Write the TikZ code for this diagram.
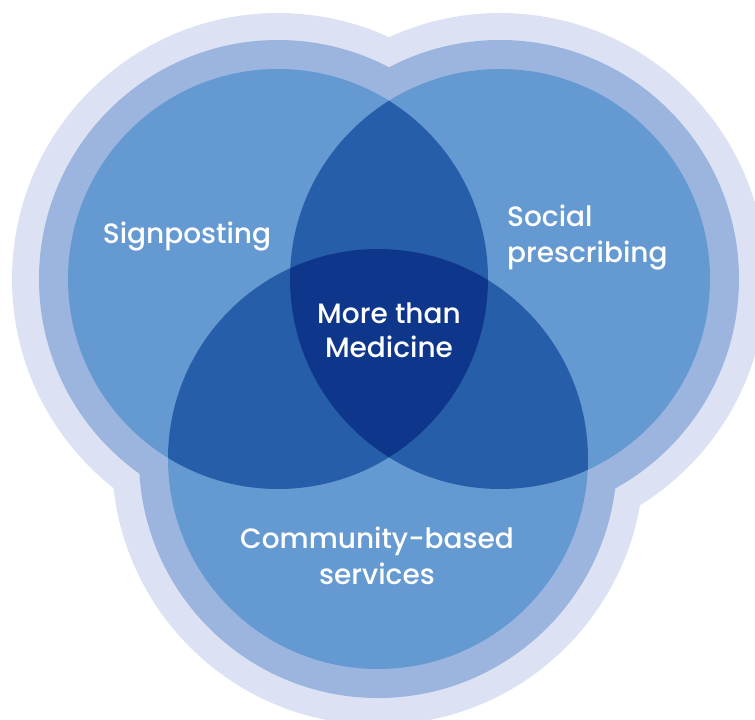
\documentclass[tikz,border=0pt]{standalone}
\usepackage{fontspec}
\setmainfont{Poppins}
\newfontfamily\lblfont{Poppins Medium}
\definecolor{haloA}{HTML}{DCE2F3}
\definecolor{haloB}{HTML}{9BB5DF}
\definecolor{csingle}{HTML}{6599D1}
\definecolor{cdouble}{HTML}{265EAA}
\definecolor{ctriple}{HTML}{0E378C}
\tikzset{
  lbl/.style={text=white, font=\lblfont\fontsize{28}{36}\selectfont, inner sep=0pt},
}
\begin{document}
\begin{tikzpicture}[x=1pt,y=-1pt]
\useasboundingbox (0,0) rectangle (755,720);
\coordinate (cl) at (278,279);
\coordinate (cr) at (500,279);
\coordinate (cb) at (378,459);
% halos
\foreach \c in {cl,cr,cb} \fill[haloA] (\c) circle[radius=266];
\foreach \c in {cl,cr,cb} \fill[haloB] (\c) circle[radius=239];
% circles
\foreach \c in {cl,cr,cb} \fill[csingle] (\c) circle[radius=210];
% pairwise overlaps
\begin{scope}
  \clip (cl) circle[radius=210];
  \fill[cdouble] (cr) circle[radius=210];
  \fill[cdouble] (cb) circle[radius=210];
\end{scope}
\begin{scope}
  \clip (cr) circle[radius=210];
  \fill[cdouble] (cb) circle[radius=210];
\end{scope}
% triple overlap
\begin{scope}
  \clip (cl) circle[radius=210];
  \clip (cr) circle[radius=210];
  \fill[ctriple] (cb) circle[radius=210];
\end{scope}
% labels
\node[lbl, anchor=base] (sign) at (187,243) {Signposting};
\node[lbl, anchor=base west] (soc) at (507,226) {Social};
\node[lbl, anchor=base west] (pres) at (507,262) {prescribing};
\node[lbl, anchor=base] (more) at (389,323) {More than};
\node[lbl, anchor=base] (med) at (389,357) {Medicine};
\node[lbl, anchor=base] (comm) at (377,548) {Community-based};
\node[lbl, anchor=base] (serv) at (377,584) {services};
\end{tikzpicture}
\end{document}
